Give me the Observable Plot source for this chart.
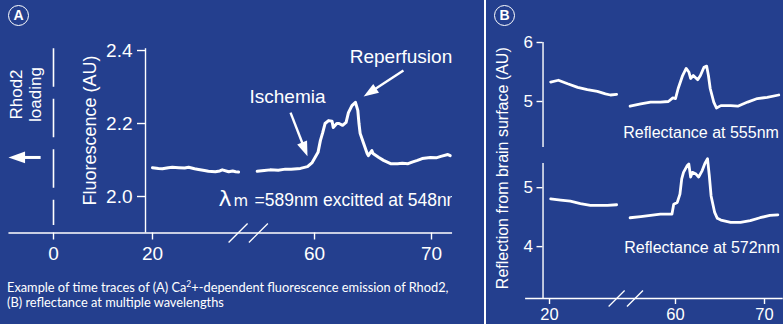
<!DOCTYPE html>
<html>
<head>
<meta charset="utf-8">
<script src="https://cdn.jsdelivr.net/npm/d3@7"></script>
<script src="https://cdn.jsdelivr.net/npm/@observablehq/plot@0.6"></script>
<style>
  html, body { margin: 0; padding: 0; background: #243f8e; }
  #fig { position: relative; width: 783px; height: 324px; overflow: hidden; background: #243f8e; color: #fff; }
  #fig svg { position: absolute; left: 0; top: 0; }
  .badge { position: absolute; box-sizing: border-box; width: 21px; height: 21px; border: 1.7px solid #fff; border-radius: 50%;
           text-align: center; font: bold 14px/18px "Liberation Sans", Arial, sans-serif; color: #fff; }
  #divider { position: absolute; left: 484px; top: 0; width: 2px; height: 324px; background: #fff; }
  #caption { position: absolute; left: 7px; top: 280px; font: 12.8px/15px Lato, "Open Sans", sans-serif; color: #fff; }
  #caption sup { font-size: 8.5px; line-height: 0; }
</style>
</head>
<body>
<div id="fig">
  <div id="divider"></div>
  <div class="badge" style="left:8px;top:5px">A</div>
  <div class="badge" style="left:494px;top:5px">B</div>
  <div id="caption">Example of time traces of (A) Ca<sup>2</sup>+-dependent fluorescence emission of Rhod2,<br>(B) reflectance at multiple wavelengths</div>
</div>
<script>
// ---------- Panel A: Rhod2 fluorescence (AU) over time ----------
const fluoTimeEarly = [20.0, 21.2, 22.0, 23.2, 24.0, 25.3, 26.5, 27.3, 28.5, 29.3, 30.5, 31.3, 32.7, 33.6, 34.1, 35.4, 36.2, 36.8, 37.4];
const fluoEarly     = [2.079, 2.077, 2.076, 2.079, 2.080, 2.079, 2.078, 2.080, 2.076, 2.074, 2.071, 2.069, 2.068, 2.070, 2.073, 2.068, 2.070, 2.068, 2.067];
const fluoTimeLate  = [55.1, 55.7, 56.2, 56.9, 57.5, 58.0, 58.8, 59.4, 59.8, 60.3, 60.5, 60.7, 60.9, 61.2, 61.5, 61.6, 61.9, 62.1, 62.4, 62.7,
                       62.9, 63.2, 63.5, 63.7, 63.8, 63.9, 64.2, 64.5, 64.6, 64.9, 65.0, 65.5, 65.9, 66.5, 67.1, 67.5, 68.0, 68.4, 68.8, 69.2,
                       69.9, 70.4, 70.8, 71.4, 71.6];
const fluoLate      = [2.069, 2.071, 2.073, 2.072, 2.075, 2.075, 2.077, 2.082, 2.093, 2.121, 2.153, 2.175, 2.200, 2.208, 2.206, 2.189, 2.200, 2.200, 2.195, 2.203,
                       2.230, 2.249, 2.258, 2.236, 2.200, 2.173, 2.145, 2.118, 2.112, 2.126, 2.118, 2.107, 2.099, 2.090, 2.090, 2.091, 2.090, 2.095, 2.099, 2.104,
                       2.107, 2.106, 2.110, 2.115, 2.112];
const fluoTicks  = [2.0, 2.2, 2.4];
const timeTicksA = [0, 20, 60, 70];
const loadTime   = [0];          // Rhod2 loading
const breakA     = [37.3, 55.2]; // axis break between the two recording windows

// ---------- Panel B: reflection from brain surface (AU) ----------
const reflTimeEarly = [20.3, 22.3, 24.7, 27.3, 29.8, 32.4, 34.5, 35.8, 37.4];
const refl555Early  = [5.33, 5.36, 5.30, 5.24, 5.20, 5.17, 5.13, 5.11, 5.12];
const refl555Time   = [54.9, 56.1, 57.2, 58.3, 59.2, 59.7, 60.0, 60.3, 60.8, 61.2, 61.5, 61.7, 62.0, 62.5, 62.8, 63.2, 63.5, 63.7, 63.9, 64.3,
                       64.6, 65.1, 66.2, 67.0, 68.1, 69.2, 70.3, 71.6];
const refl555Late   = [4.92, 4.96, 4.99, 4.99, 5.00, 5.06, 5.05, 5.22, 5.44, 5.56, 5.50, 5.39, 5.44, 5.37, 5.44, 5.58, 5.60, 5.44, 5.22, 4.99,
                       4.89, 4.93, 4.93, 4.92, 4.99, 5.05, 5.07, 5.11];
const refl572TimeEarly = [20.3, 22.9, 25.4, 28.0, 30.6, 32.7, 35.0, 37.4];
const refl572Early  = [4.81, 4.79, 4.77, 4.73, 4.70, 4.70, 4.70, 4.71];
const refl572Time   = [54.9, 56.1, 57.2, 58.3, 59.1, 59.6, 59.8, 60.2, 60.5, 60.7, 60.9, 61.3, 61.5, 61.7, 61.9, 62.3, 62.6, 63.0, 63.3, 63.6,
                       63.8, 64.0, 64.4, 64.7, 65.1, 66.2, 67.3, 68.4, 69.5, 70.6, 71.5];
const refl572Late   = [4.49, 4.51, 4.53, 4.55, 4.55, 4.55, 4.72, 4.75, 4.89, 5.15, 5.26, 5.37, 5.40, 5.18, 5.26, 5.23, 5.18, 5.29, 5.41, 5.49,
                       5.20, 4.86, 4.58, 4.48, 4.45, 4.41, 4.41, 4.44, 4.49, 4.53, 4.54];
const reflTicksTop    = [5, 6];
const reflTicksBottom = [4, 5];
const timeTicksB      = [20, 60, 70];
const breakB          = [37.4, 55.45];

// ---------- shared styling ----------
const W = 783, H = 324;
const white = "#ffffff";
const chartFont = "'Liberation Sans', Arial, Helvetica, sans-serif";
const svgStyle = {background: "transparent", color: white, fontFamily: chartFont, overflow: "visible"};

function series(t, v, seg) { return t.map((d, i) => ({t: d, v: v[i], seg})); }

// Filled arrowhead, tip at the origin, pointing up before rotation
const arrowHead = {draw(ctx, size) {
  const s = Math.sqrt(size / Math.PI);
  ctx.moveTo(0, 0); ctx.lineTo(-0.62 * s, 1.75 * s); ctx.lineTo(0.62 * s, 1.75 * s); ctx.closePath();
}};
// Axis-break tick "/"
const breakSlash = {draw(ctx, size) {
  const s = Math.sqrt(size / Math.PI);
  ctx.moveTo(-s, s); ctx.lineTo(s, -s);
}};

// Arrow = straight shaft + filled head, oriented along tail -> tip in screen space
function arrowMarks(arrows, xOpts, yOpts, {r, strokeWidth}) {
  const sx = d3.scaleLinear(xOpts.domain, xOpts.range), sy = d3.scaleLinear(yOpts.domain, yOpts.range);
  const geo = arrows.map(a => {
    const px1 = sx(a.x1), py1 = sy(a.y1), px2 = sx(a.x2), py2 = sy(a.y2);
    const len = Math.hypot(px2 - px1, py2 - py1), ux = (px2 - px1) / len, uy = (py2 - py1) / len;
    const back = 1.5 * r;
    return {...a, bx: sx.invert(px2 - ux * back), by: sy.invert(py2 - uy * back),
            angle: Math.atan2(ux, -uy) * 180 / Math.PI};
  });
  return [
    Plot.link(geo, {x1: "x1", y1: "y1", x2: "bx", y2: "by", stroke: white, strokeWidth}),
    Plot.dot(geo, {x: "x2", y: "y2", rotate: "angle", symbol: arrowHead, r, fill: white, stroke: "none"})
  ];
}

// ---------- Panel A ----------
// piecewise time axis: compressed before the break, stretched after it
const xA = {type: "linear", domain: [-9, 37.6, 55.1, 72], range: [8.45, 239.1, 256.7, 454.4]};
const yA = {type: "linear", domain: [1.9, 2.405], range: [232.5, 48.2]};
const yAxisAtA = 18.59;
const fluoData = [...series(fluoTimeEarly, fluoEarly, "early"), ...series(fluoTimeLate, fluoLate, "late")];

const loadArrow  = [{x1: -2.6, y1: 2.107, x2: -9.1, y2: 2.107}];
const eventArrows = [
  {x1: 57.95, y1: 2.230, x2: 59.40, y2: 2.110},  // Ischemia
  {x1: 67.60, y1: 2.345, x2: 64.20, y2: 2.274}   // Reperfusion
];
const eventLabels = [
  {x: 57.69, y: 2.2726, text: "Ischemia"},
  {x: 67.39, y: 2.3836, text: "Reperfusion"}
];
const excitation = {x: 33.33, y: 1.9753};

const plotA = Plot.plot({
  width: W, height: H,
  marginLeft: 145, marginTop: 48.2, marginBottom: H - 232.5, marginRight: W - 452,
  style: svgStyle,
  x: xA, y: yA,
  marks: [
    Plot.ruleX([yAxisAtA], {y1: 1.9, y2: 2.405, stroke: white, strokeWidth: 1.4}),
    Plot.ruleY([1.9], {x1: -9, x2: 71.8, stroke: white, strokeWidth: 1.4}),
    Plot.axisY(fluoTicks, {tickSize: 8, tickPadding: 5, fontSize: 19, tickFormat: ".1f", label: null, strokeWidth: 1.4}),
    Plot.axisX(timeTicksA, {tickSize: 7, tickPadding: 6.5, fontSize: 19, tickFormat: "d", label: null, strokeWidth: 1.4}),
    Plot.dot(breakA, {x: d => d, y: 1.9, symbol: breakSlash, r: 9.5, fill: "none", stroke: white, strokeWidth: 1.3}),
    Plot.ruleX(loadTime, {x: d => d, y1: 2.405, y2: 1.9205, stroke: white, strokeWidth: 1.6, strokeDasharray: "38.5,12"}),
    Plot.text([{x: -5.66, y: 2.2795}], {x: "x", y: "y", text: () => "Rhod2\nloading", rotate: -90, fontSize: 17, lineHeight: 1.15, fill: white}),
    Plot.text([{x: 7.47, y: 2.1808}], {x: "x", y: "y", text: () => "Fluorescence (AU)", rotate: -90, fontSize: 18, fill: white}),
    ...arrowMarks(loadArrow, xA, yA, {r: 9.5, strokeWidth: 3}),
    ...arrowMarks(eventArrows, xA, yA, {r: 8.5, strokeWidth: 2.4}),
    Plot.line(fluoData, {x: "t", y: "v", z: "seg", stroke: white, strokeWidth: 3, strokeLinejoin: "round"}),
    Plot.text(eventLabels, {x: "x", y: "y", text: "text", fontSize: 19, fill: white}),
    Plot.text([excitation], {x: "x", y: "y", text: () => "λ", textAnchor: "start", lineAnchor: "bottom", fontSize: 22, fontFamily: "'DejaVu Sans', sans-serif", fill: white}),
    Plot.text([excitation], {x: "x", y: "y", text: () => "m", textAnchor: "start", lineAnchor: "bottom", dx: 15, fontSize: 15, fontFamily: "'DejaVu Sans', sans-serif", fill: white}),
    Plot.text([excitation], {x: "x", y: "y", text: () => "=589nm excitted at 548nm", textAnchor: "start", lineAnchor: "bottom", dx: 36, fontSize: 17.5, fill: white, clip: true})
  ]
});

// ---------- Panel B ----------
const xB = {type: "linear", domain: [13.8, 37.6, 54.8, 72.1], range: [525.1, 616.9, 628.7, 782.7]};
const yAxisAtB = 18.32;
const yBTop = {type: "linear", domain: [4.22, 6], range: [147, 42]};
const yBBottom = {type: "linear", domain: [3.12, 5.41], range: [298, 163]};
const refl555Data = [...series(reflTimeEarly, refl555Early, "early"), ...series(refl555Time, refl555Late, "late")];
const refl572Data = [...series(refl572TimeEarly, refl572Early, "early"), ...series(refl572Time, refl572Late, "late")];

// upper trace shares the time axis drawn under the lower one
const plotBTop = Plot.plot({
  width: W, height: H,
  marginLeft: 542.5, marginTop: 42, marginBottom: H - 147, marginRight: 0.3,
  style: svgStyle,
  x: {...xB, axis: null}, y: yBTop,
  marks: [
    Plot.ruleX([yAxisAtB], {y1: 4.22, y2: 6, stroke: white, strokeWidth: 1.4}),
    Plot.axisY(reflTicksTop, {tickSize: 6, tickPadding: 4, fontSize: 17, tickFormat: "d", label: null, strokeWidth: 1.4}),
    Plot.line(refl555Data, {x: "t", y: "v", z: "seg", stroke: white, strokeWidth: 2.8, strokeLinejoin: "round"}),
    Plot.text([{x: 62.87, y: 4.466}], {x: "x", y: "y", text: () => "Reflectance at 555nm", fontSize: 16, fill: white})
  ]
});

const plotBBottom = Plot.plot({
  width: W, height: H,
  marginLeft: 542.5, marginTop: 163, marginBottom: H - 298, marginRight: 0.3,
  style: svgStyle,
  x: xB, y: yBBottom,
  marks: [
    Plot.ruleX([yAxisAtB], {y1: 3.12, y2: 5.41, stroke: white, strokeWidth: 1.4}),
    Plot.ruleY([3.12], {x1: 13.8, x2: 72.1, stroke: white, strokeWidth: 1.4}),
    Plot.axisY(reflTicksBottom, {tickSize: 6, tickPadding: 4, fontSize: 17, tickFormat: "d", label: null, strokeWidth: 1.4}),
    Plot.axisX(timeTicksB, {tickSize: 6, tickPadding: 3.5, fontSize: 16.5, tickFormat: "d", label: null, strokeWidth: 1.4}),
    Plot.dot(breakB, {x: d => d, y: 3.12, symbol: breakSlash, r: 8, fill: "none", stroke: white, strokeWidth: 1.3}),
    Plot.line(refl572Data, {x: "t", y: "v", z: "seg", stroke: white, strokeWidth: 2.8, strokeLinejoin: "round"}),
    Plot.text([{x: 62.98, y: 3.975}], {x: "x", y: "y", text: () => "Reflectance at 572nm", fontSize: 16, fill: white}),
    Plot.text([{x: 7.82, y: 5.33}], {x: "x", y: "y", text: () => "Reflection from brain surface (AU)", rotate: -90, fontSize: 16, fill: white})
  ]
});

const fig = document.getElementById("fig");
fig.append(plotA, plotBTop, plotBBottom);
</script>
</body>
</html>
